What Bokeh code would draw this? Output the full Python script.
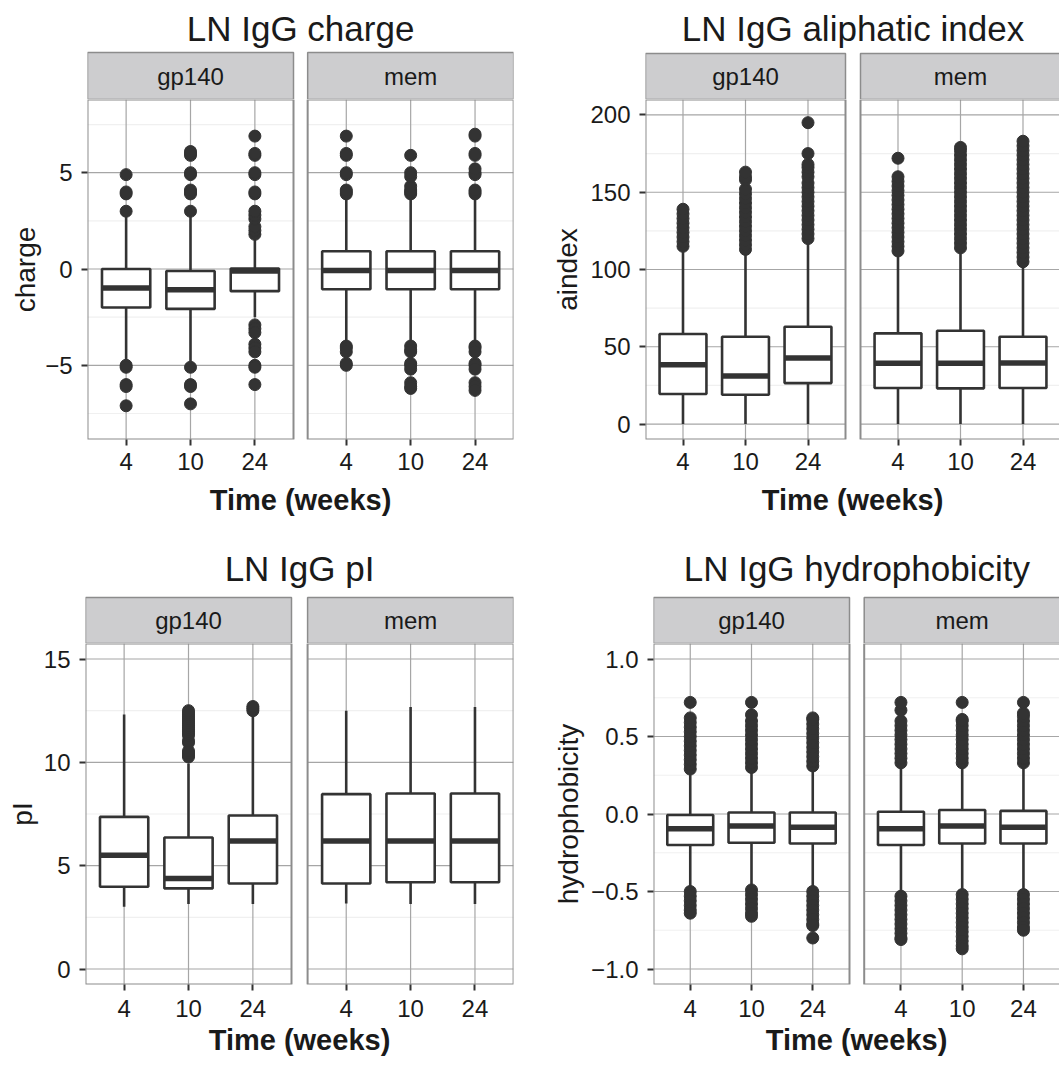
from bokeh.plotting import figure
from bokeh.layouts import column, row
from bokeh.models import FixedTicker, Range1d
from bokeh.core.properties import value
from bokeh.embed import file_html
from bokeh.resources import INLINE

# ---------------- data ----------------
times = ["4", "10", "24"]
facets = ["gp140", "mem"]

# charge
charge_gp140_low = [-4.8, -4.8, -2.5]
charge_gp140_q1 = [-2.0, -2.07, -1.15]
charge_gp140_med = [-0.98, -1.07, -0.1]
charge_gp140_q3 = [0.0, -0.1, 0.03]
charge_gp140_high = [2.8, 2.8, 1.5]
charge_gp140_out = [
    [3.0, 3.9, 4.0, 4.9, -5.0, -5.1, -6.0, -6.1, -7.1],
    [3.0, 3.9, 4.0, 4.1, 4.9, 5.0, 5.9, 6.0, 6.1, -5.1, -6.0, -6.1, -7.0],
    [1.8, 2.0, 2.2, 2.6, 2.8, 3.0, 3.9, 4.0, 4.9, 5.0, 5.9, 6.0, 6.9,
     -2.9, -3.1, -3.3, -3.9, -4.1, -4.3, -5.0, -5.1, -6.0],
]
charge_mem_low = [-3.9, -3.9, -3.9]
charge_mem_q1 = [-1.05, -1.05, -1.05]
charge_mem_med = [-0.08, -0.08, -0.08]
charge_mem_q3 = [0.92, 0.92, 0.92]
charge_mem_high = [3.7, 3.7, 3.7]
charge_mem_out = [
    [3.9, 4.0, 4.1, 4.9, 5.0, 5.9, 6.0, 6.9, -4.0, -4.1, -4.3, -4.9, -5.0],
    [3.9, 4.0, 4.1, 4.3, 4.8, 5.0, 5.9, -4.0, -4.2, -4.3, -4.9, -5.0, -5.2, -5.9, -6.1, -6.2],
    [3.9, 4.0, 4.1, 4.9, 5.0, 5.2, 5.9, 6.0, 6.9, 7.0,
     -4.0, -4.1, -4.3, -4.9, -5.0, -5.2, -5.9, -6.1, -6.3],
]

# aliphatic index
aindex_gp140_low = [0, 0, 0]
aindex_gp140_q1 = [19.4, 19.0, 26.5]
aindex_gp140_med = [38.4, 31.1, 42.7]
aindex_gp140_q3 = [58.3, 56.5, 63.0]
aindex_gp140_high = [113, 112, 117]
aindex_gp140_out = [
    [115, 118, 121, 124, 127, 130, 133, 136, 139],
    [113, 116, 119, 122, 125, 128, 131, 134, 137, 140, 143, 146, 149, 152, 158, 160, 163],
    [120, 123, 126, 129, 132, 135, 138, 141, 144, 147, 150, 153, 156, 160, 163, 166, 168, 175, 195],
]
aindex_mem_low = [0, 0, 0]
aindex_mem_q1 = [23.3, 23.1, 23.3]
aindex_mem_med = [39.3, 39.3, 39.5]
aindex_mem_q3 = [58.7, 60.4, 56.5]
aindex_mem_high = [110, 112, 103]
aindex_mem_out = [
    [112, 115, 118, 121, 124, 127, 130, 133, 136, 139, 142, 145, 148, 151, 154, 157, 160, 172],
    [114, 117, 120, 123, 126, 129, 132, 135, 138, 141, 144, 147, 150, 153, 156, 159, 162,
     165, 168, 171, 174, 177, 179],
    [105, 108, 111, 114, 117, 120, 123, 126, 129, 132, 135, 138, 141, 144, 147, 150, 153,
     156, 159, 162, 165, 168, 171, 174, 177, 180, 183],
]

# pI
pi_gp140_low = [3.01, 3.14, 3.14]
pi_gp140_q1 = [3.98, 3.90, 4.14]
pi_gp140_med = [5.51, 4.38, 6.19]
pi_gp140_q3 = [7.36, 6.36, 7.43]
pi_gp140_high = [12.31, 9.94, 12.30]
pi_gp140_out = [
    [],
    [10.26, 10.35, 10.45, 10.55, 10.95, 11.05, 11.3, 11.4, 11.5, 11.6, 11.7, 11.8, 11.9,
     12.0, 12.1, 12.2, 12.3, 12.4, 12.5],
    [12.5, 12.6, 12.7],
]
pi_mem_low = [3.17, 3.14, 3.14]
pi_mem_q1 = [4.14, 4.20, 4.20]
pi_mem_med = [6.19, 6.19, 6.19]
pi_mem_q3 = [8.46, 8.49, 8.49]
pi_mem_high = [12.49, 12.68, 12.68]
pi_mem_out = [[], [], []]

# hydrophobicity
hydro_gp140_low = [-0.48, -0.47, -0.48]
hydro_gp140_q1 = [-0.20, -0.185, -0.19]
hydro_gp140_med = [-0.095, -0.077, -0.086]
hydro_gp140_q3 = [-0.006, 0.01, 0.01]
hydro_gp140_high = [0.27, 0.28, 0.29]
hydro_gp140_out = [
    [0.29, 0.32, 0.35, 0.38, 0.41, 0.44, 0.47, 0.50, 0.53, 0.56, 0.59, 0.62, 0.72,
     -0.50, -0.53, -0.56, -0.59, -0.62, -0.64],
    [0.30, 0.33, 0.36, 0.39, 0.42, 0.45, 0.48, 0.51, 0.54, 0.57, 0.60, 0.64, 0.72,
     -0.49, -0.52, -0.55, -0.58, -0.61, -0.64, -0.66],
    [0.31, 0.34, 0.37, 0.40, 0.43, 0.46, 0.49, 0.52, 0.55, 0.58, 0.61, 0.62,
     -0.50, -0.53, -0.56, -0.59, -0.62, -0.65, -0.68, -0.71, -0.72, -0.80],
]
hydro_mem_low = [-0.51, -0.50, -0.50]
hydro_mem_q1 = [-0.20, -0.19, -0.19]
hydro_mem_med = [-0.095, -0.077, -0.086]
hydro_mem_q3 = [0.015, 0.026, 0.02]
hydro_mem_high = [0.31, 0.31, 0.31]
hydro_mem_out = [
    [0.33, 0.36, 0.39, 0.42, 0.45, 0.48, 0.51, 0.54, 0.57, 0.60, 0.67, 0.72,
     -0.53, -0.56, -0.59, -0.62, -0.65, -0.68, -0.71, -0.74, -0.77, -0.80, -0.81],
    [0.33, 0.36, 0.39, 0.42, 0.45, 0.48, 0.51, 0.54, 0.57, 0.60, 0.61, 0.72,
     -0.52, -0.55, -0.58, -0.61, -0.64, -0.67, -0.70, -0.73, -0.76, -0.79, -0.82, -0.85, -0.87],
    [0.33, 0.36, 0.39, 0.42, 0.45, 0.48, 0.51, 0.54, 0.57, 0.60, 0.63, 0.65, 0.72,
     -0.52, -0.55, -0.58, -0.61, -0.64, -0.67, -0.70, -0.73, -0.75],
]

charge_ticks = [-5, 0, 5]
charge_labels = ["\u22125", "0", "5"]
charge_minor = [-7.5, -2.5, 2.5, 7.5]
aindex_ticks = [0, 50, 100, 150, 200]
aindex_labels = ["0", "50", "100", "150", "200"]
aindex_minor = [25, 75, 125, 175]
pi_ticks = [0, 5, 10, 15]
pi_labels = ["0", "5", "10", "15"]
pi_minor = [2.5, 7.5, 12.5]
hydro_ticks = [-1.0, -0.5, 0.0, 0.5, 1.0]
hydro_labels = ["\u22121.0", "\u22120.5", "0.0", "0.5", "1.0"]
hydro_minor = [-0.75, -0.25, 0.25, 0.75]

# ---------------- style ----------------
FONT = "Liberation Sans"
DARK = "#333333"
TEXT = "#1a1a1a"
GRID = "#a6a6a6"
MINOR = "#f0f0f0"
BORDER = "#8c8c8c"
STRIP = "#cdcdcf"


def base_fig(W, H, xr, yr, FL, FR, bottom):
    p = figure(width=W, height=H, x_range=xr, y_range=yr,
               min_border_left=FL, min_border_right=W - FR, min_border_top=0,
               min_border_bottom=bottom, toolbar_location=None, tools="",
               output_backend="svg")
    p.title.visible = False
    p.outline_line_color = None
    p.xgrid.grid_line_color = None
    p.ygrid.grid_line_color = None
    p.background_fill_color = "white"
    p.border_fill_color = "white"
    return p


def make_panel(title, ylabel, yticks, ylabels, minor, ylo, yhi, data,
               W, H, FL, FW, GAP, FR, title_y, strip_top, data_top, FB,
               xstand, xlab_stand, ylab_stand):
    ppu = FW / 3.2
    off2 = round(3.2 + GAP / ppu, 2)
    offsets = [0.0, off2]
    xr = Range1d(0.4, 0.4 + (FR - FL) / ppu)

    # ---- header: title + facet strips (y in pixels, measured upward) ----
    hdr = base_fig(W, data_top, xr, Range1d(0, data_top), FL, FR, 0)
    hdr.xaxis.visible = False
    hdr.yaxis.visible = False
    for fname, o in zip(facets, offsets):
        hdr.quad(left=[o + 0.4], right=[o + 3.6], bottom=[0], top=[data_top - strip_top],
                 fill_color=STRIP, line_color=BORDER, line_width=1.5)
        hdr.text(x=[o + 2], y=[(data_top - strip_top) / 2], text=[fname], text_align="center",
                 text_baseline="middle", text_font=value(FONT), text_font_size=value("24px"),
                 text_color=TEXT)
    hdr.text(x=[(0.4 + off2 + 3.6) / 2], y=[data_top - title_y], text=[title],
             text_align="center", text_baseline="middle", text_font=value(FONT),
             text_font_size=value("35px"), text_color=TEXT)

    # ---- main panel ----
    p = base_fig(W, H - data_top, xr, Range1d(ylo, yhi), FL, FR, H - FB)
    for fname, o in zip(facets, offsets):
        low, q1, med, q3, high, outs = data[fname]
        left, right = o + 0.4, o + 3.6
        xs = [o + 1 + i for i in range(3)]
        p.segment(x0=[left] * len(minor), x1=[right] * len(minor), y0=minor, y1=minor,
                  line_color=MINOR, line_width=1.2)
        p.segment(x0=[left] * len(yticks), x1=[right] * len(yticks), y0=yticks, y1=yticks,
                  line_color=GRID, line_width=1.2)
        p.segment(x0=xs, x1=xs, y0=[ylo] * 3, y1=[yhi] * 3, line_color=GRID, line_width=1.2)
        p.segment(x0=xs, x1=xs, y0=q3, y1=high, line_color=DARK, line_width=2.6)
        p.segment(x0=xs, x1=xs, y0=q1, y1=low, line_color=DARK, line_width=2.6)
        ox, oy = [], []
        for i, vals in enumerate(outs):
            ox += [xs[i]] * len(vals)
            oy += list(vals)
        p.scatter(ox, oy, size=12, marker="circle", fill_color=DARK, line_color=DARK)
        p.vbar(x=xs, width=0.75, bottom=q1, top=q3, fill_color="white",
               line_color=DARK, line_width=2.6)
        p.segment(x0=[x - 0.375 for x in xs], x1=[x + 0.375 for x in xs], y0=med, y1=med,
                  line_color=DARK, line_width=5.5)
        p.quad(left=[left], right=[right], bottom=[ylo], top=[yhi], fill_color=None,
               line_color=BORDER, line_width=2)

    xt = [1, 2, 3, off2 + 1, off2 + 2, off2 + 3]
    p.xaxis.ticker = FixedTicker(ticks=xt)
    p.xaxis.major_label_overrides = {t: lab for t, lab in zip(xt, times + times)}
    p.yaxis.ticker = FixedTicker(ticks=yticks)
    p.yaxis.major_label_overrides = {t: lab for t, lab in zip(yticks, ylabels)}
    for ax in (p.xaxis[0], p.yaxis[0]):
        ax.axis_line_color = None
        ax.major_tick_line_color = DARK
        ax.major_tick_line_width = 2
        ax.major_tick_out = 6
        ax.major_tick_in = 0
        ax.minor_tick_line_color = None
        ax.major_label_text_font = FONT
        ax.major_label_text_font_size = "24px"
        ax.major_label_text_color = TEXT
        ax.axis_label_text_color = TEXT
        ax.axis_label_text_font = FONT
    p.xaxis.major_label_standoff = xstand
    p.yaxis.major_label_standoff = 9
    p.xaxis.axis_label = "Time (weeks)"
    p.xaxis.axis_label_text_font_style = "bold"
    p.xaxis.axis_label_text_font_size = "29px"
    p.xaxis.axis_label_standoff = xlab_stand
    p.yaxis.axis_label = ylabel
    p.yaxis.axis_label_text_font_style = "normal"
    p.yaxis.axis_label_text_font_size = "28px"
    p.yaxis.axis_label_standoff = ylab_stand
    return column(hdr, p)


def pack(prefix):
    g = globals()
    return {f: (g[f"{prefix}_{f}_low"], g[f"{prefix}_{f}_q1"], g[f"{prefix}_{f}_med"],
                g[f"{prefix}_{f}_q3"], g[f"{prefix}_{f}_high"], g[f"{prefix}_{f}_out"])
            for f in facets}


p1 = make_panel("LN IgG charge", "charge", charge_ticks, charge_labels, charge_minor,
                -8.85, 8.8, pack("charge"),
                W=530, H=540, FL=87, FW=206, GAP=14, FR=513,
                title_y=28, strip_top=52, data_top=99, FB=439,
                xstand=7, xlab_stand=11, ylab_stand=1)
p2 = make_panel("LN IgG aliphatic index", "aindex", aindex_ticks, aindex_labels, aindex_minor,
                -10, 210, pack("aindex"),
                W=529, H=540, FL=115, FW=200, GAP=15, FR=529,
                title_y=28, strip_top=53, data_top=99, FB=439,
                xstand=7, xlab_stand=11, ylab_stand=4)
p3 = make_panel("LN IgG pI", "pI", pi_ticks, pi_labels, pi_minor,
                -0.75, 15.75, pack("pi"),
                W=530, H=539, FL=85, FW=206, GAP=16, FR=513,
                title_y=28, strip_top=57, data_top=103, FB=444,
                xstand=9, xlab_stand=4, ylab_stand=3)
p4 = make_panel("LN IgG hydrophobicity", "hydrophobicity", hydro_ticks, hydro_labels, hydro_minor,
                -1.1, 1.1, pack("hydro"),
                W=529, H=539, FL=123, FW=196, GAP=15, FR=529,
                title_y=28, strip_top=57, data_top=103, FB=444,
                xstand=9, xlab_stand=4, ylab_stand=4)

layout = column(row(p1, p2), row(p3, p4))
open("out.html", "w").write(file_html(layout, INLINE))
